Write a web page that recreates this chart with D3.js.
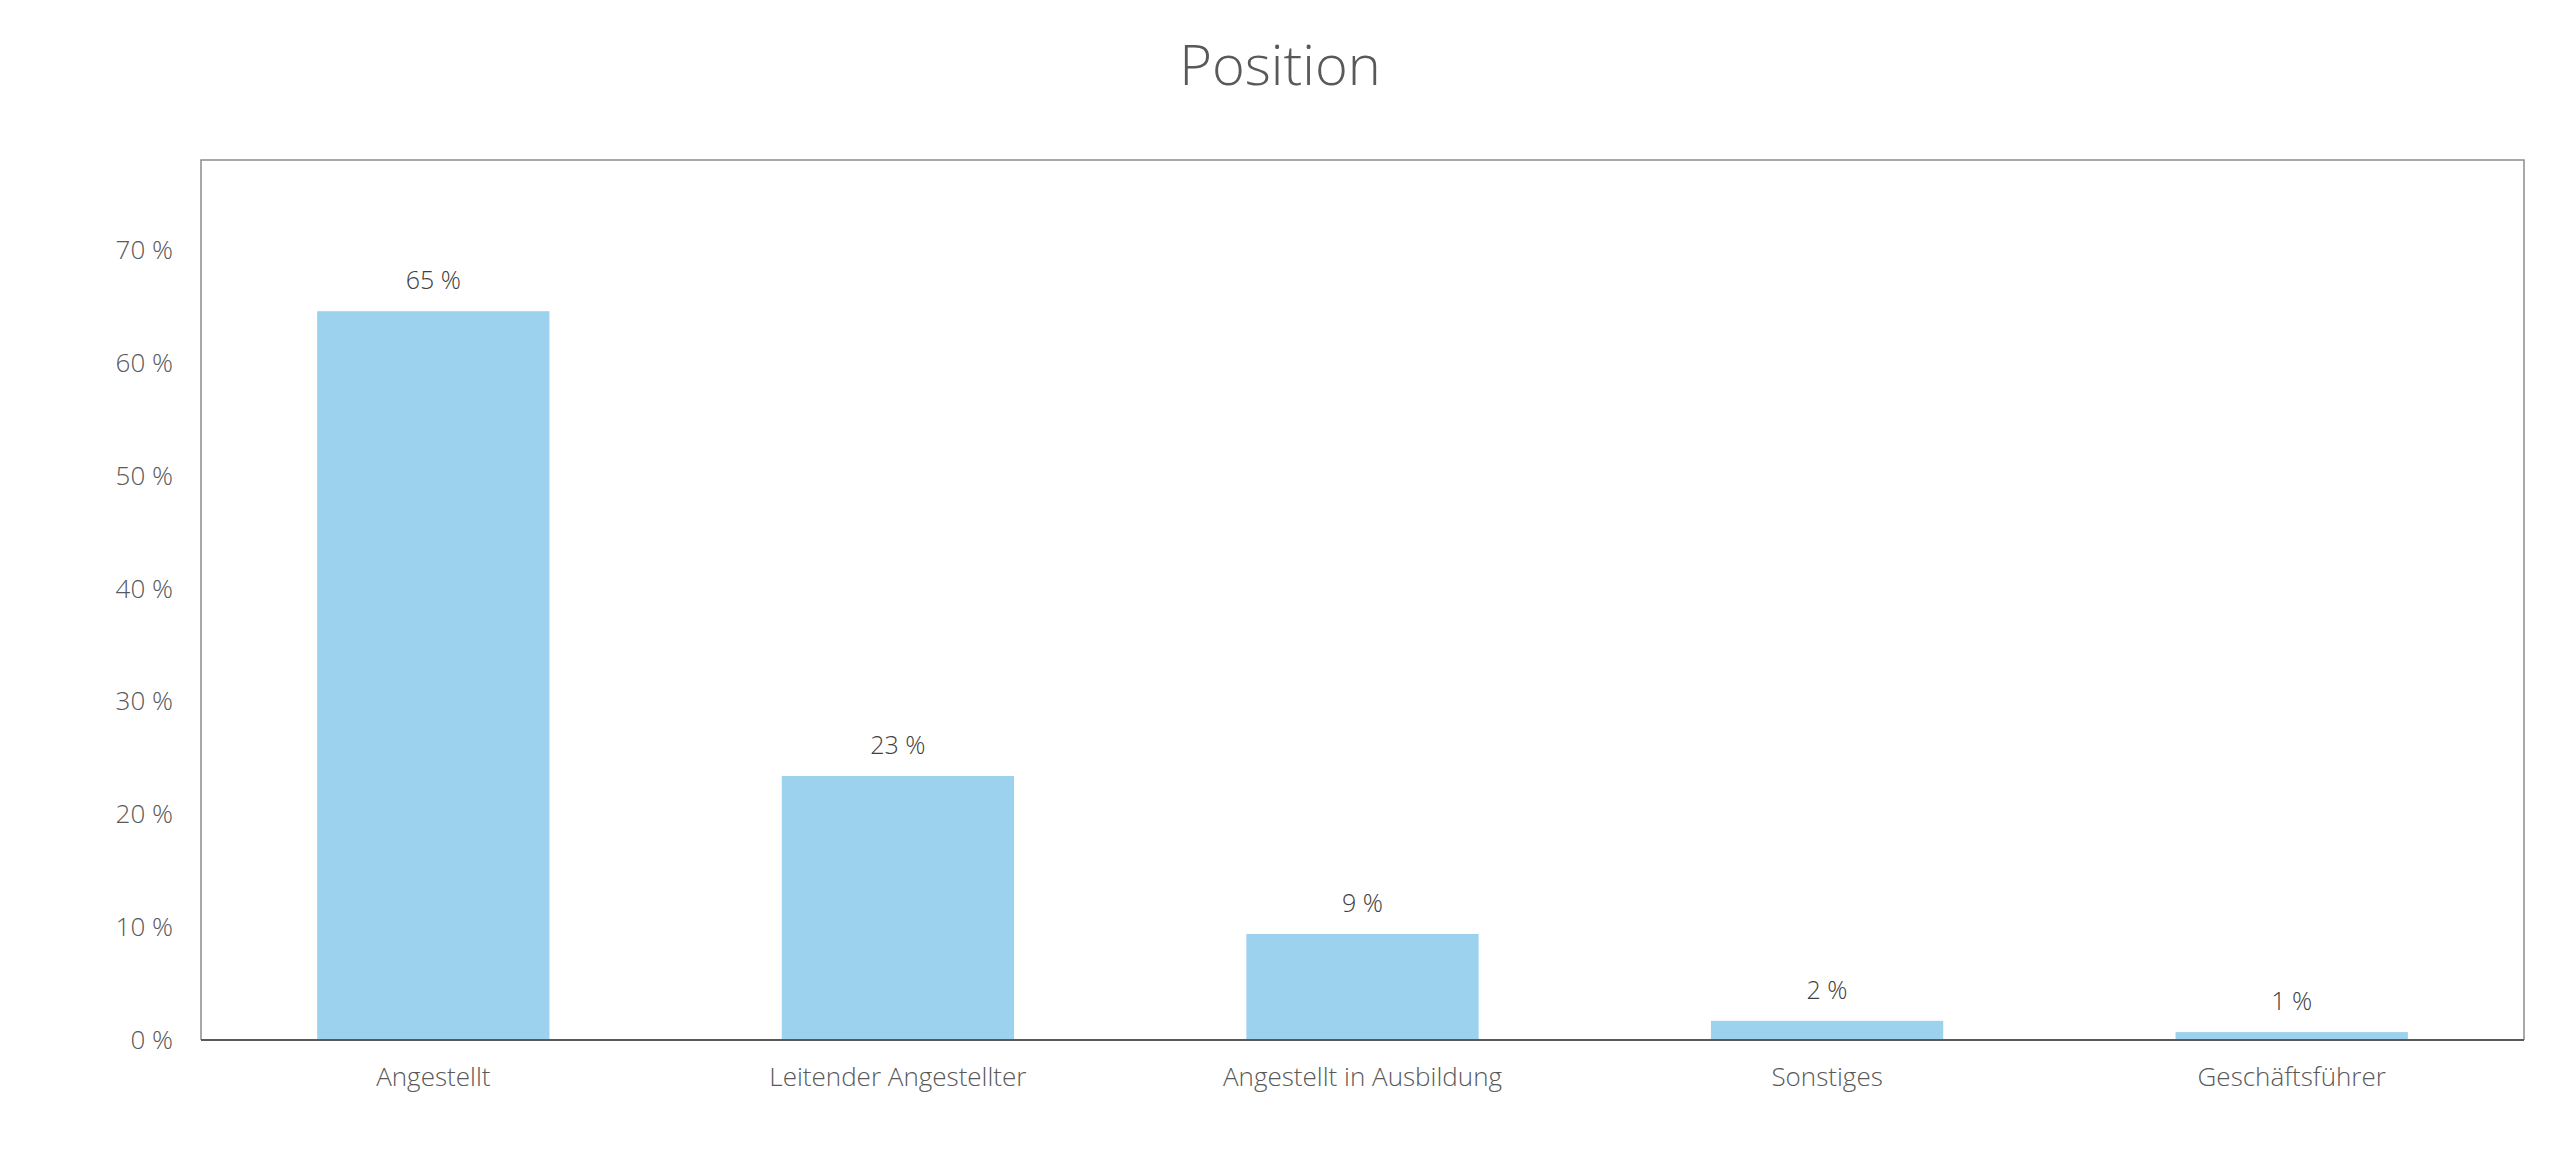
<!DOCTYPE html>
<html>
<head>
<meta charset="utf-8">
<script src="https://cdn.jsdelivr.net/npm/d3@7"></script>
<style>
  html, body { margin: 0; padding: 0; background: #ffffff; }
  svg { display: block; }
  text { font-family: "Open Sans", "Noto Sans", sans-serif; font-weight: 300; }
</style>
</head>
<body>
<div id="chart"></div>
<script>
const title = "Position";
const categories = ["Angestellt", "Leitender Angestellter", "Angestellt in Ausbildung", "Sonstiges", "Geschäftsführer"];
const values = [64.6, 23.4, 9.4, 1.7, 0.7];
const yTicks = [0, 10, 20, 30, 40, 50, 60, 70];
const yMax = 78;

const W = 2560, H = 1167;
const margin = { left: 201, right: 2560 - 2524, top: 160, bottom: 1167 - 1040 };

const svg = d3.select("#chart").append("svg")
  .attr("width", W).attr("height", H);

const x = d3.scaleBand()
  .domain(categories)
  .range([margin.left, W - margin.right])
  .paddingInner(0.5)
  .paddingOuter(0.25);

const y = d3.scaleLinear()
  .domain([0, yMax])
  .range([H - margin.bottom, margin.top]);

// Title
svg.append("text")
  .attr("x", W / 2)
  .attr("y", 85)
  .attr("text-anchor", "middle")
  .attr("fill", "#595959")
  .style("font-size", "56px")
  .text(title);

// Plot frame (left, top, right)
const x0 = margin.left, x1 = W - margin.right, yTop = margin.top, yBot = H - margin.bottom;
svg.append("path")
  .attr("d", `M${x0},${yBot}V${yTop}H${x1}V${yBot}`)
  .attr("fill", "none")
  .attr("stroke", "#8c8c8c")
  .attr("stroke-width", 1.5);

// Bars
svg.append("g").selectAll("rect")
  .data(categories)
  .join("rect")
  .attr("x", d => x(d))
  .attr("width", x.bandwidth())
  .attr("y", (d, i) => y(values[i]))
  .attr("height", (d, i) => y(0) - y(values[i]))
  .attr("fill", "#9dd2ee");

// Value labels
svg.append("g").selectAll("text")
  .data(categories)
  .join("text")
  .attr("x", d => x(d) + x.bandwidth() / 2)
  .attr("y", (d, i) => y(values[i]) - 22)
  .attr("text-anchor", "middle")
  .attr("fill", "#404040")
  .style("font-size", "25px")
  .text((d, i) => d3.format(".0f")(values[i]) + " %");

// Y axis
const yAxis = d3.axisLeft(y)
  .tickValues(yTicks)
  .tickSize(0)
  .tickPadding(28)
  .tickFormat(d => d + " %");
const gy = svg.append("g")
  .attr("transform", `translate(${margin.left},0)`)
  .call(yAxis);
gy.select(".domain").remove();
gy.selectAll("text")
  .attr("fill", "#595959")
  .style("font-size", "26px")
  .style("font-family", "'Open Sans', sans-serif")
  .style("font-weight", 300);

// X axis
const xAxis = d3.axisBottom(x)
  .tickSize(0)
  .tickPadding(28);
const gx = svg.append("g")
  .attr("transform", `translate(0,${yBot})`)
  .call(xAxis);
gx.select(".domain")
  .attr("stroke", "#595959")
  .attr("stroke-width", 2)
  .attr("d", `M${x0},0H${x1}`);
gx.selectAll("text")
  .attr("fill", "#595959")
  .style("font-size", "26px")
  .style("font-family", "'Open Sans', sans-serif")
  .style("font-weight", 300);
</script>
</body>
</html>
